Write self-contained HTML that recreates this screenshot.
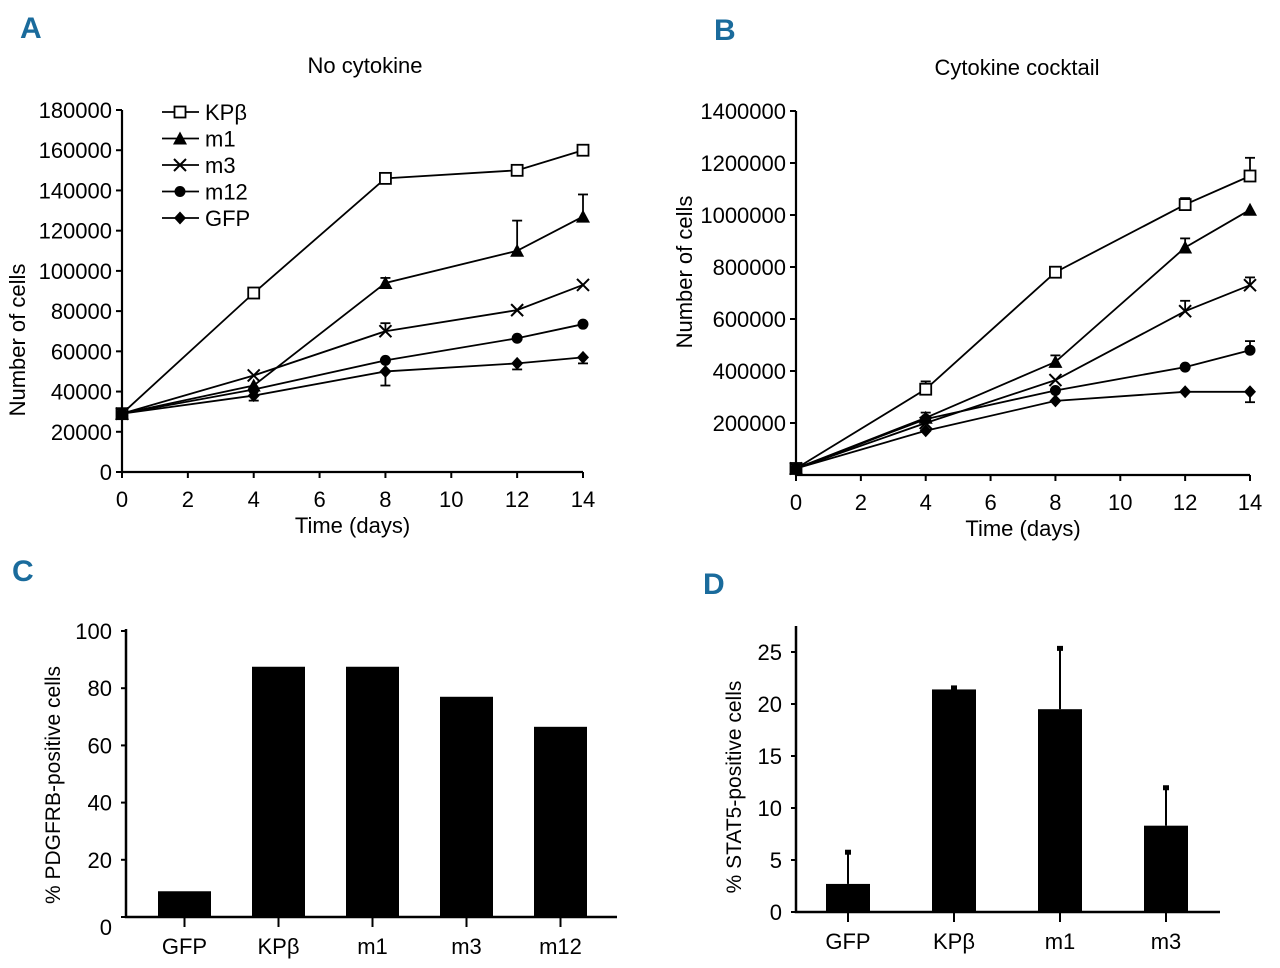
<!DOCTYPE html>
<html><head><meta charset="utf-8"><style>
body{margin:0;background:#fff;}
svg{display:block;font-family:"Liberation Sans Narrow","Liberation Sans",sans-serif;}
</style></head><body>
<svg id="fig" width="1280" height="968" viewBox="0 0 1280 968">
<g font-family="Liberation Sans" font-weight="bold" fill="#1a6b9c" font-size="30">
<text x="20" y="38">A</text>
<text x="714" y="40">B</text>
<text x="12" y="581">C</text>
<text x="703" y="594">D</text>
</g>
<text x="365" y="73" text-anchor="middle" font-size="22">No cytokine</text>
<text x="1017" y="75" text-anchor="middle" font-size="22">Cytokine cocktail</text>
</svg>
<script>
const days=[0,4,8,12,14];
const seriesNames=["KPβ","m1","m3","m12","GFP"];
const markers=["square","triangle","cross","circle","diamond"];
const aKP=[29000,89000,146000,150000,160000];
const aM1=[29000,43000,94000,110000,127000];
const aM3=[29000,48000,70000,80500,93000];
const aM12=[29000,41000,55500,66500,73500];
const aGFP=[29000,38000,50000,54000,57000];
const aErrKP=[0,0,0,0,0];
const aErrM1=[0,0,2500,15000,11000];
const aErrM3=[0,0,4000,0,0];
const aErrM12=[0,0,0,0,0];
const aErrGFP=[0,-2500,-7000,-3000,-3000];
const bKP=[25000,330000,780000,1040000,1150000];
const bM1=[25000,220000,435000,875000,1020000];
const bM3=[25000,200000,365000,630000,730000];
const bM12=[25000,215000,325000,415000,480000];
const bGFP=[25000,170000,285000,320000,320000];
const bErrKP=[0,30000,0,25000,70000];
const bErrM1=[0,0,25000,35000,0];
const bErrM3=[0,0,0,40000,30000];
const bErrM12=[0,25000,0,0,35000];
const bErrGFP=[0,0,0,0,-40000];
const aTicks=[0,20000,40000,60000,80000,100000,120000,140000,160000,180000];
const bTicks=[200000,400000,600000,800000,1000000,1200000,1400000];
const xTicks=[0,2,4,6,8,10,12,14];
const cCats=["GFP","KPβ","m1","m3","m12"];
const cVals=[9,87.5,87.5,77,66.5];
const cTicks=[0,20,40,60,80,100];
const dCats=["GFP","KPβ","m1","m3"];
const dVals=[2.7,21.4,19.5,8.3];
const dErr=[3.0,0.1,5.8,3.6];
const dTicks=[0,5,10,15,20,25];

const NS="http://www.w3.org/2000/svg";
const svg=document.getElementById('fig');
function mk(tag,attrs,parent,text){const e=document.createElementNS(NS,tag);for(const k in attrs)e.setAttribute(k,attrs[k]);if(text!==undefined)e.textContent=text;(parent||svg).appendChild(e);return e;}
function line(x1,y1,x2,y2,g,w){return mk('line',{x1,y1,x2,y2,stroke:'#000','stroke-width':w||2},g);}
function marker(type,x,y,g){
 let e;
 if(type==='square')e=mk('rect',{x:x-5.5,y:y-5.5,width:11,height:11,fill:'#fff',stroke:'#000','stroke-width':1.8},g);
 else if(type==='triangle')e=mk('polygon',{points:`${x},${y-7} ${x-7},${y+6} ${x+7},${y+6}`,fill:'#000'},g);
 else if(type==='cross'){e=mk('path',{d:`M${x-6},${y-6}L${x+6},${y+6}M${x-6},${y+6}L${x+6},${y-6}`,stroke:'#000','stroke-width':2},g);}
 else if(type==='circle')e=mk('circle',{cx:x,cy:y,r:5.5,fill:'#000'},g);
 else e=mk('polygon',{points:`${x},${y-6.5} ${x+6},${y} ${x},${y+6.5} ${x-6},${y}`,fill:'#000'},g);
 
 
}
function linePanel(cfg){
 const g=mk('g',{});
 
 
 const sx=v=>cfg.x0+(cfg.x1-cfg.x0)*v/14;
 const sy=v=>cfg.y0-(cfg.y0-cfg.yTop)*v/cfg.yMax;
 const ax=mk('path',{d:`M${cfg.x0},${sy(cfg.yMax)}L${cfg.x0},${cfg.y0}L${cfg.x1},${cfg.y0}`,fill:'none',stroke:'#000','stroke-width':2.2},g);
 
 
 cfg.ticks.forEach(t=>{line(cfg.x0-6,sy(t),cfg.x0,sy(t),g);
  const tx=mk('text',{x:cfg.x0-10,y:sy(t)+8,'text-anchor':'end','font-size':22},g,String(t));
  
  });
 xTicks.forEach(t=>{line(sx(t),cfg.y0,sx(t),cfg.y0+6,g);
  const tx=mk('text',{x:sx(t),y:cfg.y0+35,'text-anchor':'middle','font-size':22},g,String(t));
  
  });
 const xt=mk('text',{x:(cfg.x0+cfg.x1)/2,y:cfg.y0+61,'text-anchor':'middle','font-size':22},g,'Time (days)');
 
 
 const yt=mk('text',{transform:`translate(${cfg.ytx},${cfg.yty}) rotate(-90)`,'text-anchor':'middle','font-size':22},g,'Number of cells');
 
 
 cfg.series.forEach((s,i)=>{
  const sg=mk('g',{},g);
  
  
  mk('polyline',{points:days.map((d,j)=>sx(d)+','+sy(s[j])).join(' '),fill:'none',stroke:'#000','stroke-width':1.8},sg);
  cfg.errs[i].forEach((e,j)=>{if(e){const y1=sy(s[j]),y2=sy(s[j]+e);line(sx(days[j]),y1,sx(days[j]),y2,sg,1.8);line(sx(days[j])-5,y2,sx(days[j])+5,y2,sg,1.8);}});
  days.forEach((d,j)=>marker(markers[i],sx(d),sy(s[j]),sg));
 });
}
linePanel({name:'panel-a-chart',x0:122,x1:583,y0:472,yTop:110,yMax:180000,ticks:aTicks,ytx:25,yty:340,
 series:[aKP,aM1,aM3,aM12,aGFP],errs:[aErrKP,aErrM1,aErrM3,aErrM12,aErrGFP]});
linePanel({name:'panel-b-chart',x0:796,x1:1250,y0:475,yTop:111,yMax:1400000,ticks:bTicks,ytx:692,yty:272,
 series:[bKP,bM1,bM3,bM12,bGFP],errs:[bErrKP,bErrM1,bErrM3,bErrM12,bErrGFP]});
// legend
const lg=mk('g',{});


seriesNames.forEach((n,i)=>{const y=112+i*26.5;
 const eg=mk('g',{},lg);
 
 
 line(162,y,199,y,eg,1.8);marker(markers[i],180,y,eg);
 mk('text',{x:205,y:y+8,'font-size':22},eg,n);});
function barPanel(cfg){
 const g=mk('g',{});
 
 
 const sy=v=>cfg.y0-(cfg.y0-cfg.yTop)*v/cfg.yMax;
 const ax=mk('path',{d:`M${cfg.x0},${cfg.axTop}L${cfg.x0},${cfg.y0}L${cfg.x1},${cfg.y0}`,fill:'none',stroke:'#000','stroke-width':2.5},g);
 
 
 cfg.ticks.forEach(t=>{line(cfg.x0-5,sy(t),cfg.x0,sy(t),g);
  const tx=mk('text',{x:cfg.x0-14,y:sy(t)+(t===0?cfg.zeroOff:8),'text-anchor':'end','font-size':22},g,String(t));
  
  });
 const yt=mk('text',{transform:`translate(${cfg.ytx},${cfg.yty}) rotate(-90)`,'text-anchor':'middle','font-size':21,'font-family':'Liberation Sans'},g,cfg.ytitle);
 
 
 cfg.cats.forEach((c,i)=>{const cx=cfg.c0+i*cfg.step;
  const b=mk('rect',{x:cx-cfg.bw/2,y:sy(cfg.vals[i]),width:cfg.bw,height:cfg.y0-sy(cfg.vals[i]),fill:'#000'},g);
  
  
  if(cfg.err){const yt2=sy(cfg.vals[i]+cfg.err[i]);line(cx,sy(cfg.vals[i]),cx,yt2,g,2);mk('rect',{x:cx-3,y:yt2-3,width:6,height:5,fill:'#000'},g);}
  line(cx,cfg.y0,cx,cfg.y0+10,g);
  const tx=mk('text',{x:cx,y:cfg.y0+37,'text-anchor':'middle','font-size':22},g,c);
  
  });
}
barPanel({name:'panel-c-chart',x0:126,x1:617,y0:917,yTop:631,yMax:100,axTop:629,ticks:cTicks,cats:cCats,vals:cVals,c0:184.5,step:94,bw:53,
 ytx:60,yty:785,ytitle:'% PDGFRB-positive cells',zeroOff:18});
barPanel({name:'panel-d-chart',x0:796,x1:1220,y0:912,yTop:652,yMax:25,axTop:626,ticks:dTicks,cats:dCats,vals:dVals,err:dErr,c0:848,step:106,bw:44,
 ytx:741,yty:787,ytitle:'% STAT5-positive cells',zeroOff:8});
</script>
</body></html>
